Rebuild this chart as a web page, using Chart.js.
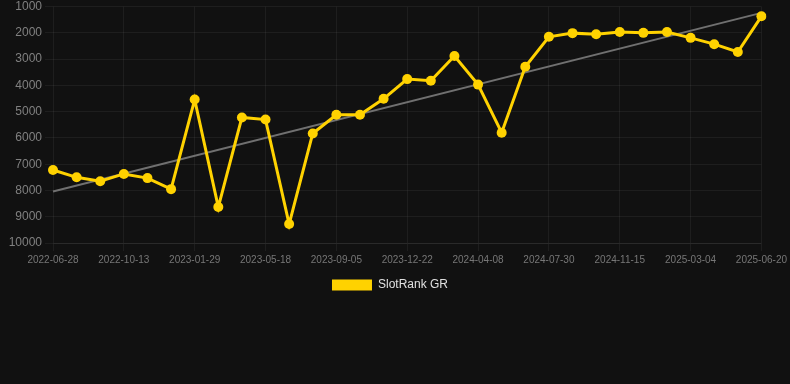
<!DOCTYPE html>
<html>
<head>
<meta charset="utf-8">
<script src="https://cdn.jsdelivr.net/npm/chart.js@4"></script>
<style>
  html, body { margin: 0; padding: 0; background: #111111; }
  #wrap { width: 790px; height: 301px; }
</style>
</head>
<body>
<div id="wrap"><canvas id="c"></canvas></div>
<script>
const labels = [
  "2022-06-28","2022-08-03","2022-09-07","2022-10-13","2022-11-18","2022-12-24",
  "2023-01-29","2023-03-06","2023-04-12","2023-05-18","2023-06-24","2023-07-30",
  "2023-09-05","2023-10-11","2023-11-16","2023-12-22","2024-01-27","2024-03-03",
  "2024-04-08","2024-05-16","2024-06-22","2024-07-30","2024-09-04","2024-10-10",
  "2024-11-15","2024-12-21","2025-01-27","2025-03-04","2025-04-09","2025-05-15",
  "2025-06-20"
];
const rankValues = [
  7220, 7500, 7650, 7370, 7530, 7950,
  4540, 8630, 5220, 5300, 9280, 5830,
  5120, 5120, 4510, 3760, 3820, 2880,
  3970, 5800, 3290, 2150, 2010, 2050,
  1970, 2000, 1970, 2190, 2430, 2730,
  1370
];
const trendEnds = [8040, 1240];
const yTicks = [1000, 2000, 3000, 4000, 5000, 6000, 7000, 8000, 9000, 10000];

const trendData = [
  { x: labels[0], y: trendEnds[0] },
  { x: labels[labels.length - 1], y: trendEnds[1] }
];

const gridCol = 'rgba(255,255,255,0.055)';

const legendShift = {
  id: 'legendShift',
  afterLayout(chart) {
    if (chart.legend) { chart.legend.right -= 10; }
  }
};

new Chart(document.getElementById('c'), {
  type: 'line',
  data: {
    labels: labels,
    datasets: [
      {
        label: 'SlotRank GR',
        data: rankValues,
        borderColor: '#FFD200',
        backgroundColor: '#FFD200',
        borderWidth: 3,
        pointRadius: 5,
        pointHoverRadius: 5,
        pointBackgroundColor: '#FFD200',
        pointBorderWidth: 0,
        tension: 0,
        order: 1
      },
      {
        label: 'trend',
        data: trendData,
        borderColor: '#707070',
        borderWidth: 2,
        pointRadius: 0,
        fill: false,
        order: 2
      }
    ]
  },
  plugins: [legendShift],
  options: {
    responsive: true,
    maintainAspectRatio: false,
    animation: false,
    layout: { autoPadding: false, padding: 0 },
    plugins: {
      legend: {
        position: 'bottom',
        labels: {
          color: '#e0e0e0',
          font: { family: 'Liberation Sans, Arial, sans-serif', size: 12 },
          boxWidth: 40,
          boxHeight: 11,
          filter: (item) => item.text !== 'trend',
          generateLabels: (chart) => {
            const items = Chart.defaults.plugins.legend.labels.generateLabels(chart);
            items.forEach(it => { it.lineWidth = 0; it.strokeStyle = 'rgba(0,0,0,0)'; });
            return items;
          }
        }
      },
      tooltip: { enabled: false }
    },
    scales: {
      x: {
        grid: {
          color: (ctx) => (ctx.index % 3 === 0 ? gridCol : 'rgba(0,0,0,0)'),
          tickColor: (ctx) => (ctx.index % 3 === 0 ? gridCol : 'rgba(0,0,0,0)')
        },
        border: { color: gridCol },
        ticks: {
          autoSkip: false,
          maxRotation: 0,
          color: '#777777',
          font: { family: 'Liberation Sans, Arial, sans-serif', size: 10 },
          callback: function (v, i) { return i % 3 === 0 ? labels[i] : ''; }
        }
      },
      y: {
        reverse: true,
        min: 1000,
        max: 10000,
        afterBuildTicks: (axis) => { axis.ticks = yTicks.map(v => ({ value: v })); },
        afterFit: (axis) => { axis.width = 53; },
        grid: { color: gridCol, tickColor: gridCol },
        border: { display: false },
        ticks: {
          color: '#808080',
          font: { family: 'Liberation Sans, Arial, sans-serif', size: 12, lineHeight: 0.6 },
          callback: (v) => String(v)
        }
      }
    }
  }
});
</script>
</body>
</html>
